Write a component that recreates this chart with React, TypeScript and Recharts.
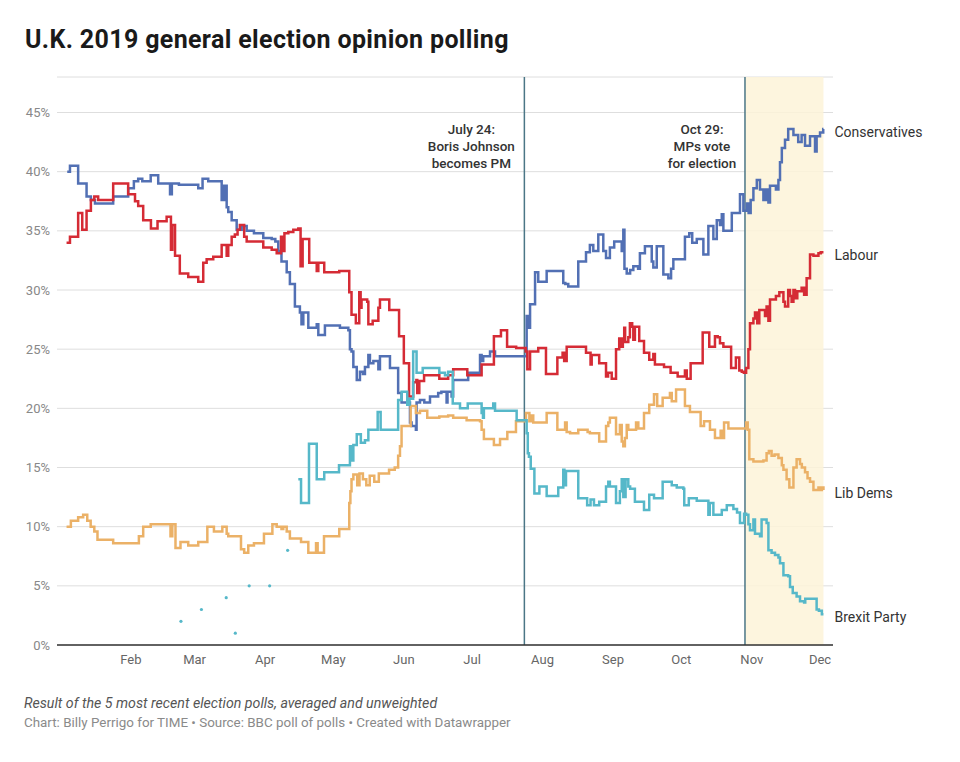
import { ComposedChart, Line, XAxis, YAxis, CartesianGrid, ReferenceLine, ReferenceArea } from 'recharts';

// day of year 2019 (Jan 1 = 0) -> polling average, %
const CONSERVATIVES: [number, number][] = [
  [3, 40.0], [4.2, 40.5], [7.8, 39.0], [11.5, 37.9], [13.4, 37.6], [15.2, 37.3], [23.2, 37.9], [29.8, 38.6],
  [32.3, 39.2], [34.2, 39.4], [36, 39.2], [39.7, 39.7], [43, 39.0], [48.2, 38.1], [49, 39.0], [52.1, 38.9],
  [60.6, 38.6], [62.5, 39.4], [65, 39.2], [70.9, 37.6], [72, 38.8], [73.1, 37.0], [73.8, 36.6], [75.3, 35.9],
  [77.5, 35.1], [79.7, 35.4], [81.9, 35.0], [85.1, 34.8], [89.2, 34.4], [92.9, 34.3], [94.5, 34.1], [95.8, 33.3],
  [97.2, 32.4], [99.5, 31.5], [100.9, 30.5], [103.1, 28.6], [105.3, 28.1], [106, 27.1], [106.8, 28.1], [109, 26.8],
  [112.7, 27.1], [113.4, 26.2], [116.3, 27.0], [122.9, 26.8], [126.6, 26.6], [127.3, 25.0], [128, 24.8], [128.8, 23.5],
  [130.3, 22.4], [131.7, 23.1], [133, 22.9], [133.9, 23.5], [135.4, 24.5], [136.1, 23.8], [137.6, 24.0], [139.8, 23.3],
  [140.5, 24.4], [144.9, 23.4], [148.5, 21.3], [150, 20.5], [153.7, 18.8], [154.4, 18.5], [156.3, 18.2], [156.6, 20.5],
  [158.1, 20.7], [160, 20.5], [162.5, 21.0], [166.1, 21.3], [167.5, 21.4], [169.8, 20.5], [170.2, 21.4], [172, 21.0],
  [172.7, 22.4], [179.3, 23.0], [184.5, 24.5], [185.2, 24.0], [185.9, 24.4], [188.9, 24.8], [191.1, 24.4], [205, 27.8],
  [205.6, 26.8], [206.5, 28.8], [208.7, 31.5], [210.1, 30.7], [213.8, 31.6], [221.1, 30.6], [222, 30.5], [223.3, 30.3],
  [227.7, 32.4], [231.1, 33.2], [232.8, 33.8], [234.3, 33.3], [236.5, 34.7], [238.7, 33.3], [239.9, 32.7], [241.6, 33.6],
  [243.5, 34.1], [246.8, 33.3], [247.5, 35.1], [248, 31.8], [249, 31.4], [250.5, 31.7], [251.9, 32.0], [254, 31.8],
  [254.8, 33.1], [257, 33.7], [260, 32.4], [260.7, 31.9], [262.2, 33.7], [265.1, 31.3], [267.3, 31.0], [268.5, 31.8],
  [269.5, 32.6], [274.6, 34.5], [276.5, 34.8], [277.8, 34.0], [279.8, 34.3], [282.7, 33.0], [284.9, 35.4], [287.1, 34.3],
  [288.6, 35.9], [290, 35.5], [290.8, 36.4], [291.5, 35.0], [295.2, 36.5], [298.8, 38.1], [300.3, 36.7], [301.8, 37.3],
  [302.6, 36.5], [303.5, 37.6], [304.7, 38.6], [306.2, 39.3], [307.6, 38.5], [309.1, 37.6], [310.2, 38.5], [311.3, 37.4],
  [312, 38.8], [314.6, 38.5], [315.7, 39.3], [316.4, 40.8], [317.2, 42.0], [318.6, 42.7], [320, 43.6], [322.3, 43.1],
  [324.4, 42.5], [325.9, 43.1], [327.4, 42.2], [329.6, 43.0], [331.8, 41.7], [332.5, 43.0], [334, 43.3], [335.4, 43.6],
  [335.5, 43.6],
];

const LABOUR: [number, number][] = [
  [2.7, 34.0], [4.2, 34.5], [7.8, 36.5], [9.6, 35.1], [11.5, 36.7], [13.4, 37.6], [14.9, 37.9], [16.6, 37.6],
  [23.2, 39.0], [29.8, 38.1], [32.8, 37.5], [34.2, 37.1], [36.4, 35.9], [39.8, 35.2], [42.7, 35.8], [46.7, 36.2],
  [48.6, 33.4], [49.2, 35.5], [50.4, 32.9], [52.5, 31.4], [56.2, 31.1], [60.6, 30.7], [62.8, 32.3], [64.3, 32.6],
  [67.2, 32.8], [70.9, 33.8], [73.1, 32.9], [73.8, 33.8], [75.3, 34.5], [76.7, 34.7], [77.9, 35.1], [78.9, 35.5],
  [80.8, 34.5], [81.9, 34.1], [89.2, 33.6], [92.9, 33.4], [95.1, 33.1], [97, 34.5], [97.5, 33.3], [98.5, 34.8],
  [100.2, 34.9], [102.4, 35.1], [104.6, 35.2], [105.6, 32.0], [106.5, 34.3], [109.4, 32.3], [112.7, 31.6], [113.4, 32.3],
  [116, 31.5], [122.6, 31.6], [127, 29.8], [128, 27.9], [129.9, 27.2], [131.4, 29.8], [132, 28.5], [132.4, 29.2],
  [134.9, 29.0], [135.4, 27.1], [137.3, 27.4], [139.8, 28.5], [140.5, 29.2], [144.6, 28.3], [148.9, 26.1], [151, 23.8],
  [153.3, 21.0], [155.1, 22.2], [156.5, 22.4], [156.9, 21.3], [157.8, 22.3], [159.9, 22.8], [166.6, 22.5], [170.5, 22.8],
  [172.7, 23.3], [178.9, 22.8], [185.2, 23.7], [190.6, 26.1], [193.7, 26.6], [196.4, 25.2], [200.4, 25.1], [204.6, 24.8],
  [205.3, 23.3], [206.5, 24.8], [210.1, 25.1], [213.5, 22.9], [218.5, 24.3], [220.8, 24.7], [221.5, 24.0], [222.6, 25.2],
  [231.1, 24.7], [233.1, 23.7], [233.6, 24.5], [236.9, 23.8], [239.9, 22.7], [240.8, 23.0], [242.4, 22.5], [244.3, 25.0],
  [245.7, 25.9], [246.8, 25.2], [247.3, 25.6], [247.9, 26.8], [248.3, 25.6], [249.7, 26.0], [250.4, 27.2], [251.4, 26.9],
  [251.9, 25.8], [252.6, 26.9], [254.5, 25.7], [256.6, 24.7], [258.9, 24.1], [260.7, 24.6], [261.4, 23.7], [265.4, 23.5],
  [268.3, 23.0], [271.4, 22.7], [274.6, 23.2], [275.4, 22.5], [277.1, 23.8], [282.4, 26.4], [285.3, 25.2], [287.8, 26.1],
  [289, 26.0], [290, 25.5], [291.5, 25.2], [294.9, 23.4], [297, 24.3], [298.5, 23.2], [299.6, 23.1], [300.5, 23.0],
  [301.5, 23.4], [302.5, 25.0], [303.2, 27.2], [304.7, 27.6], [305.4, 28.1], [306.4, 27.2], [307.3, 28.3], [309.8, 27.8],
  [310.5, 28.6], [311.3, 27.4], [312, 29.2], [314.6, 29.5], [316.1, 29.8], [317.9, 29.0], [318.6, 28.6], [320, 30.0],
  [320.8, 29.5], [321.5, 29.0], [322.3, 30.0], [323, 29.3], [324, 29.9], [325.9, 30.2], [327, 29.6], [328.1, 31.0],
  [329.6, 33.0], [331.1, 32.9], [333.3, 33.1], [334.3, 33.2], [335.5, 33.2],
];

const LIB_DEMS: [number, number][] = [
  [2.7, 10.0], [4.6, 10.5], [7.8, 10.8], [10, 11.0], [11.8, 10.5], [13.3, 10.0], [14.9, 9.6], [16.3, 8.9],
  [23.2, 8.6], [34.5, 9.2], [36.4, 10.0], [39.7, 10.2], [48.4, 9.2], [49.2, 10.2], [50.6, 8.2], [52.8, 8.7],
  [56.2, 8.4], [60.6, 8.7], [64.6, 10.0], [67.5, 9.6], [71.2, 10.0], [73.1, 9.4], [73.8, 9.2], [79.4, 8.1],
  [80.8, 7.8], [82.6, 8.4], [85.1, 8.6], [89.5, 9.4], [93.2, 10.2], [95.1, 10.0], [97.2, 9.8], [98, 10.0],
  [99.5, 9.6], [100.9, 9.0], [105.8, 8.7], [109, 7.8], [112.4, 8.6], [113.1, 7.8], [115.9, 9.2], [122.6, 9.8],
  [127, 12.0], [127.5, 13.0], [128, 14.0], [128.8, 14.4], [130.5, 13.5], [131.5, 14.5], [133, 14.0], [134.5, 13.5],
  [136, 14.3], [138, 13.8], [140, 14.5], [144.5, 14.8], [147, 15.0], [148.5, 16.0], [149.3, 16.8], [150, 18.5],
  [154, 20.2], [156.3, 19.6], [158.1, 19.8], [161.3, 19.2], [166.6, 19.3], [170.5, 19.4], [172.7, 19.2], [178.6, 19.0],
  [184.5, 18.9], [185.2, 18.2], [186.2, 17.4], [190.6, 16.9], [193.3, 17.4], [196.5, 18.0], [200.3, 18.9], [204.7, 19.6],
  [206.2, 18.9], [207.2, 19.4], [207.9, 18.8], [213.8, 19.6], [218.5, 18.2], [221.9, 18.8], [222.6, 18.0], [224.1, 17.9],
  [227.7, 18.2], [231.8, 18.0], [232.8, 17.9], [236.9, 17.2], [239.9, 18.5], [240.9, 18.8], [241.6, 19.2], [244.3, 17.8],
  [246, 18.6], [246.8, 17.2], [247.5, 16.8], [248.2, 17.5], [249, 18.6], [249.7, 18.2], [253.1, 18.8], [254.1, 18.3],
  [256.6, 19.6], [258.9, 20.3], [261, 21.2], [262.4, 20.2], [264.8, 20.9], [268, 21.3], [268.8, 20.6], [270.7, 21.6],
  [274.6, 20.2], [276.8, 19.7], [281.5, 18.5], [283, 18.9], [285.6, 18.2], [287.8, 17.5], [290.3, 18.1], [291, 17.5],
  [291.8, 18.8], [293.7, 18.3], [301.5, 18.8], [302.2, 18.2], [302.9, 15.7], [304.7, 15.5], [309.1, 15.6], [310.5, 16.2],
  [311.5, 16.4], [312.7, 16.0], [314, 16.1], [315.7, 15.8], [317.2, 15.2], [317.9, 14.8], [319.3, 14.0], [320.5, 13.3],
  [322.3, 15.0], [323.7, 15.7], [325.2, 15.3], [326, 15.0], [327.4, 14.6], [328.5, 14.1], [329.6, 13.8], [331.1, 13.1],
  [333.3, 13.3], [334.2, 13.1], [334.8, 13.3], [335.5, 13.1],
];

// single early polls, drawn as dots only
const BREXIT_EARLY: [number, number][] = [
  [53, 2.0], [62, 3.0], [72.9, 4.0], [76.9, 1.0], [83, 5.0], [92, 5.0], [99.9, 8.0],
];

const BREXIT: [number, number][] = [
  [104.6, 14.0], [105.8, 12.0], [109.3, 17.0], [112.7, 14.0], [116, 14.6], [122.5, 15.2], [127.3, 16.8], [127.8, 15.6],
  [128.8, 16.9], [130.3, 17.8], [132.1, 17.1], [133.9, 17.3], [135.4, 18.2], [139.5, 19.7], [140.8, 18.2], [148.5, 20.7],
  [150, 21.4], [152.5, 20.3], [153.5, 20.8], [155.1, 24.8], [156.6, 23.0], [159.3, 23.4], [166.6, 23.0], [169.1, 22.8],
  [170.5, 23.1], [172.5, 20.4], [175.7, 20.0], [179.1, 20.4], [185.2, 19.6], [185.8, 19.2], [186.2, 20.0], [190.3, 20.4],
  [191.1, 19.8], [200.6, 19.0], [205, 17.9], [205.5, 16.2], [206, 15.9], [206.8, 14.9], [208.4, 12.8], [210.6, 13.4],
  [213.8, 12.6], [218.9, 13.3], [221.1, 14.8], [221.6, 13.5], [222.3, 14.7], [227.7, 12.4], [231.6, 11.8], [233.1, 12.3],
  [234.6, 11.8], [236.9, 12.1], [239.9, 13.4], [240.9, 13.8], [241.6, 13.4], [244.3, 12.0], [246, 13.0], [246.8, 14.0],
  [247.5, 12.5], [248.5, 14.0], [249.7, 13.4], [250.5, 13.2], [252.6, 12.1], [256.6, 11.4], [258.9, 12.7], [261, 12.4],
  [264.8, 13.8], [268.8, 13.5], [271, 13.3], [273.9, 13.2], [274.3, 11.8], [276.3, 12.4], [279.8, 12.2], [284.9, 11.0],
  [285.5, 12.0], [286.4, 12.0], [287.1, 11.0], [288.6, 11.0], [290.8, 11.4], [293, 11.8], [295.9, 11.5], [297.5, 11.2],
  [298.8, 10.3], [300.6, 11.1], [301.5, 11.0], [302.5, 10.2], [303.2, 9.7], [304.7, 10.6], [305.4, 9.4], [307.6, 9.2],
  [308.3, 10.6], [310.5, 10.3], [311.3, 8.0], [312.7, 7.8], [314.2, 7.6], [315.7, 7.4], [316.4, 6.9], [317.9, 5.9],
  [320, 5.8], [320.8, 4.9], [322, 4.4], [323.7, 4.1], [325.2, 3.7], [327, 3.6], [327.5, 3.9], [331.8, 3.9],
  [332.5, 3.0], [333.5, 2.9], [334.8, 2.6], [335.5, 2.6],
];

const MONTH_TICKS = [31, 59, 90, 120, 151, 181, 212, 243, 273, 304, 334];
const MONTH_LABELS = ['Feb', 'Mar', 'Apr', 'May', 'Jun', 'Jul', 'Aug', 'Sep', 'Oct', 'Nov', 'Dec'];
const PCT_TICKS = [0, 5, 10, 15, 20, 25, 30, 35, 40, 45];

const BORIS_DAY = 204; // July 24
const VOTE_DAY = 301; // Oct 29
const LAST_DAY = 335.5;

const FONT = 'Roboto, "Noto Sans", sans-serif';

const toPoints = (rows: [number, number][]) => rows.map(([day, value]) => ({ day, value }));

function endLabel(name: string, lastIndex: number) {
  return (props: any) => {
    if (props.index !== lastIndex) return null;
    return (
      <text x={props.x + 11} y={props.y + 4} dominantBaseline="middle" fontSize={14} fill="#333" fontFamily={FONT}>
        {name}
      </text>
    );
  };
}

function Annotation({ viewBox, lines, dx }: any) {
  if (!viewBox) return null;
  const cx = viewBox.x + dx;
  return (
    <text x={cx} y={viewBox.y} textAnchor="middle" fontSize={13.5} fontWeight={500} fill="#333" fontFamily={FONT}>
      {lines.map((l: string, i: number) => (
        <tspan key={l} x={cx} y={viewBox.y + 57 + i * 17}>
          {l}
        </tspan>
      ))}
    </text>
  );
}

const series = [
  { name: 'Conservatives', rows: CONSERVATIVES, color: '#5270b4' },
  { name: 'Labour', rows: LABOUR, color: '#d52b35' },
  { name: 'Lib Dems', rows: LIB_DEMS, color: '#ebb167' },
  { name: 'Brexit Party', rows: BREXIT, color: '#56b8c9' },
];

export default function App() {
  return (
    <div style={{ position: 'absolute', left: 0, top: 0, width: 960, height: 762, background: '#fff', fontFamily: FONT }}>
      <div
        style={{
          position: 'absolute',
          left: 25,
          top: 25,
          fontSize: 25,
          letterSpacing: 0.35,
          fontWeight: 700,
          color: '#1a1a1a',
          lineHeight: '29px',
        }}
      >
        U.K. 2019 general election opinion polling
      </div>

      <ComposedChart width={960} height={762} margin={{ top: 77, right: 127, bottom: 87, left: 0 }}>
        <ReferenceArea x1={VOTE_DAY} x2={LAST_DAY} fill="#fdf3d8" fillOpacity={0.85} stroke="none" />
        <CartesianGrid vertical={false} stroke="#dedede" />
        <XAxis
          type="number"
          dataKey="day"
          domain={[-1.5, 339.7]}
          ticks={MONTH_TICKS}
          tickFormatter={(v) => MONTH_LABELS[MONTH_TICKS.indexOf(v)] ?? ''}
          tick={{ fontSize: 13, fill: '#666', fontFamily: FONT }}
          tickLine={false}
          tickSize={0}
          tickMargin={10}
          height={30}
          axisLine={{ stroke: '#333', strokeWidth: 1.5 }}
          allowDataOverflow
        />
        <YAxis
          type="number"
          domain={[0, 48]}
          ticks={PCT_TICKS}
          tickFormatter={(v) => `${v}%`}
          tick={{ fontSize: 13, fill: '#888', fontFamily: FONT }}
          tickLine={false}
          tickSize={0}
          tickMargin={7}
          axisLine={false}
          width={57}
          allowDataOverflow
        />
        <ReferenceLine
          x={BORIS_DAY}
          stroke="#4b7686"
          strokeWidth={1.5}
          label={<Annotation lines={['July 24:', 'Boris Johnson', 'becomes PM']} dx={-53} />}
        />
        <ReferenceLine
          x={VOTE_DAY}
          stroke="#4b7686"
          strokeWidth={1.5}
          label={<Annotation lines={['Oct 29:', 'MPs vote', 'for election']} dx={-43} />}
        />
        <Line
          data={toPoints(BREXIT_EARLY)}
          dataKey="value"
          stroke="none"
          dot={{ r: 1.6, fill: '#56b8c9', stroke: 'none' }}
          isAnimationActive={false}
        />
        {series.map((s) => (
          <Line
            key={s.name}
            data={toPoints(s.rows)}
            dataKey="value"
            name={s.name}
            type="stepAfter"
            stroke={s.color}
            strokeWidth={2.5}
            dot={false}
            activeDot={false}
            isAnimationActive={false}
            label={endLabel(s.name, s.rows.length - 1)}
          />
        ))}
      </ComposedChart>

      <div style={{ position: 'absolute', left: 24, top: 694, fontSize: 14.2, fontStyle: 'italic', color: '#555', lineHeight: '18px' }}>
        Result of the 5 most recent election polls, averaged and unweighted
      </div>
      <div style={{ position: 'absolute', left: 24, top: 714, fontSize: 13.4, color: '#8a8a8a', lineHeight: '18px' }}>
        Chart: Billy Perrigo for TIME • Source: BBC poll of polls • Created with Datawrapper
      </div>
    </div>
  );
}
